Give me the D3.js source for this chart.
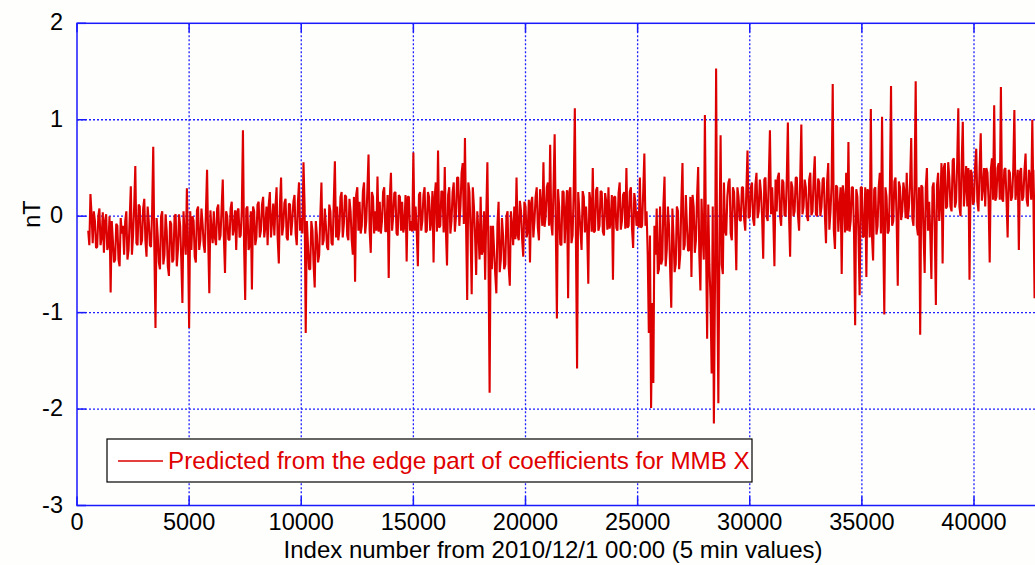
<!DOCTYPE html>
<html lang="en">
<head>
    <meta charset="UTF-8">
    <title>Predicted MMB X</title>
    <script src="https://d3js.org/d3.v7.min.js"></script>
    <style>
        body { margin: 0; background: #fefefc; overflow: hidden; }
        text { font-family: "Liberation Sans", Arial, sans-serif; }
        .grid line { stroke: #1f1fff; stroke-width: 1.3; stroke-dasharray: 2, 2; }
        .frame { stroke: #1a1aff; stroke-width: 1.5; fill: none; }
        .tick-label { font-size: 23.5px; fill: #000; }
    </style>
</head>
<body>
    <svg width="1035" height="565"></svg>

    <script>
        // series: 5 min index, first sample at 500, one value every 100
        const xStart = 500;
        const xStep = 100;
        const values = [
            -0.15, 0.23, -0.28, -0.05, -0.32, 0.08, -0.22, -0.38, 0.02, -0.30,
            -0.79, -0.25, -0.45, -0.10, -0.52, -0.18, -0.40, 0.05, -0.35, 0.31,
            -0.20, 0.52, -0.30, 0.10, -0.25, 0.18, -0.42, -0.05, -0.32, 0.72,
            -1.16, -0.20, -0.55, 0.05, -0.40, -0.15, -0.62, -0.08, -0.45, 0.02,
            -0.35, -0.10, -0.90, -0.20, 0.29, -1.16, -0.35, -0.05, -0.48, 0.10,
            -0.25, -0.08, -0.38, 0.48, -0.80, -0.15, 0.05, -0.30, 0.12, -0.20,
            0.38, -0.59, 0.00, -0.25, 0.15, -0.12, -0.35, 0.08, -0.20, 0.89,
            -0.87, 0.10, -0.30, -0.76, 0.05, -0.22, 0.15, -0.15, 0.20, -0.10,
            -0.30, 0.25, -0.05, -0.20, 0.30, -0.49, 0.40, -0.10, 0.18, -0.25,
            0.12, -0.05, 0.22, -0.30, 0.35, -0.02, 0.56, -1.21, -0.30, -0.55,
            -0.15, -0.74, -0.20, -0.40, 0.35, -0.25, -0.10, -0.35, 0.05, -0.30,
            0.57, 0.10, -0.15, 0.25, -0.08, 0.20, -0.25, 0.05, -0.40, -0.68,
            0.30, 0.15, -0.10, 0.35, -0.05, 0.64, -0.38, 0.20, 0.05, 0.41,
            0.15, -0.05, 0.30, -0.15, -0.64, 0.45, 0.00, 0.25, -0.20, 0.20,
            0.15, -0.10, -0.47, 0.20, -0.05, 0.66, 0.10, -0.52, 0.25, -0.05,
            0.30, -0.15, 0.20, -0.05, -0.48, 0.35, 0.68, -0.10, 0.25, 0.51,
            -0.51, 0.30, -0.05, 0.35, 0.00, 0.40, 0.10, 0.55, 0.81, -0.87,
            0.25, -0.81, 0.10, -0.61, -0.15, 0.20, -0.35, -0.66, 0.56, -1.83,
            -0.55, -0.35, -0.80, 0.15, -0.45, -0.20, -0.50, 0.05, -0.72, -0.10,
            0.10, 0.40, -0.25, 0.05, -0.42, 0.10, -0.15, -0.48, 0.20, -0.05,
            0.30, -0.25, 0.10, 0.56, 0.00, 0.35, 0.74, -0.20, 0.85, -1.06,
            0.10, -0.30, 0.25, 0.05, -0.85, 0.30, -0.20, 1.12, -1.58, 0.05,
            -0.35, 0.20, 0.10, -0.70, 0.15, 0.50, -0.15, 0.30, -0.10, 0.25,
            -0.20, 0.15, 0.30, -0.05, -0.66, 0.20, -0.15, 0.35, -0.05, 0.25,
            0.50, -0.10, 0.30, -0.33, 0.15, 0.05, 0.40, -0.10, 0.65, 0.05,
            -1.21, -1.99, -1.73, -0.40, -0.60, 0.10, -0.45, 0.41, -0.35, -0.10,
            -0.95, -0.20, -0.50, 0.05, -0.40, 0.55, -0.30, -0.10, -0.35, -0.63,
            0.10, -0.25, 0.51, -0.77, -0.20, 1.05, -1.27, -0.50, -1.63, -2.15,
            1.53, -1.94, 0.84, -0.60, -0.15, 0.20, 0.39, -0.25, 0.25, -0.56,
            0.20, -0.05, 0.30, -0.15, 0.68, 0.00, 0.35, -0.10, 0.45, 0.05,
            0.25, -0.44, 0.40, -0.05, 0.89, 0.30, -0.52, 0.05, 0.45, -0.10,
            0.35, 0.00, 0.97, -0.42, 0.30, 0.05, 0.40, -0.15, 0.95, 0.10,
            0.30, -0.05, 0.45, 0.05, 0.62, 0.00, 0.35, 0.10, 0.40, -0.28,
            0.55, 0.05, 1.37, -0.34, 0.30, 0.10, -0.60, 0.20, 0.45, 0.77,
            -0.05, 0.30, -1.13, 0.20, -0.82, 0.30, -0.20, -0.63, 0.25, 1.11,
            -0.46, 0.30, -0.10, 0.45, 1.03, -1.02, 0.20, -0.15, 1.35, -0.05,
            0.40, -0.72, 0.30, 0.05, 0.25, 0.45, 0.10, 0.81, -0.10, 1.40,
            -0.20, -1.23, 0.30, -0.59, 0.50, 0.15, -0.65, 0.35, -0.92, 0.45,
            0.15, -0.49, 0.55, 0.10, 0.40, 0.05, 0.60, 0.15, 1.12, 0.00,
            0.98, 0.30, 0.10, -0.66, 0.45, 0.15, 0.70, 0.05, 0.86, 0.30,
            0.10, 0.45, -0.48, 0.60, 1.15, 0.20, 0.55, 1.34, 0.15, 0.50,
            -0.22, 0.45, 0.20, 1.10, 0.30, -0.35, 0.50, 0.20, 0.65, 0.10,
            0.40, 1.00, -0.85, 0.45, 0.30, 0.55, 0.20
        ];

        // in-between samples (index + 50), mostly inside the dense core
        const midOffset = 50;
        const midValues = [
            -0.30, 0.02, 0.05, -0.33, 0.00, -0.30, 0.04, -0.05, -0.35, 0.00,
            -0.05, -0.48, -0.08, -0.45, -0.02, -0.10, -0.05, -0.45, -0.02, -0.40,
            0.10, -0.28, 0.12, -0.30, 0.08, -0.25, 0.10, -0.30, 0.05, -0.35,
            -0.02, -0.48, 0.00, -0.50, 0.02, -0.52, -0.05, -0.48, 0.00, -0.52,
            0.02, -0.45, 0.05, -0.40, -0.30, 0.05, 0.00, -0.42, 0.06, -0.35,
            0.08, -0.30, 0.05, -0.25, 0.06, -0.28, -0.22, 0.08, -0.25, 0.09,
            -0.22, 0.05, -0.24, 0.08, -0.20, 0.06, 0.05, -0.22, 0.07, -0.30,
            0.08, -0.35, 0.05, 0.10, -0.30, 0.12, -0.22, 0.12, -0.22, 0.10,
            0.12, -0.22, 0.13, 0.10, -0.24, 0.12, -0.20, 0.14, -0.22, 0.13,
            -0.20, 0.15, -0.18, 0.14, -0.15, -0.18, 0.10, -0.05, -0.55, -0.05,
            -0.50, -0.05, -0.48, 0.00, -0.30, 0.08, -0.32, 0.12, -0.28, 0.15,
            -0.22, -0.25, 0.20, -0.22, 0.22, -0.20, 0.18, -0.25, 0.20, 0.22,
            -0.15, -0.18, 0.26, -0.18, 0.28, -0.15, 0.25, -0.18, -0.15, -0.16,
            -0.18, 0.25, -0.16, 0.22, 0.20, -0.15, 0.24, -0.18, 0.22, -0.15,
            -0.17, 0.22, 0.20, -0.15, -0.16, -0.15, -0.16, 0.22, -0.15, 0.22,
            -0.17, 0.25, -0.15, 0.26, 0.20, -0.16, -0.12, 0.26, -0.17, -0.15,
            0.22, -0.18, 0.25, -0.16, 0.40, -0.10, 0.45, -0.08, -0.10, 0.35,
            -0.15, 0.30, -0.20, 0.05, -0.45, -0.40, 0.05, 0.00, -0.45, -0.10,
            -0.10, -0.60, -0.08, -0.58, -0.02, -0.55, 0.00, -0.52, 0.05, -0.30,
            -0.24, -0.20, 0.16, -0.24, 0.15, -0.22, 0.17, 0.14, -0.22, 0.20,
            -0.12, 0.28, -0.10, -0.11, 0.30, -0.10, -0.08, 0.30, -0.10, 0.28,
            -0.29, 0.26, -0.28, 0.27, 0.25, -0.28, 0.26, -0.28, 0.25, -0.15,
            0.26, -0.17, -0.15, 0.25, -0.16, -0.17, 0.27, -0.15, 0.26, -0.16,
            0.24, -0.14, -0.13, 0.22, 0.20, -0.12, 0.24, -0.14, 0.22, -0.13,
            -0.12, 0.25, -0.13, 0.24, -0.10, -0.12, -0.12, 0.26, -0.10, -0.40,
            -0.20, -0.90, -0.10, 0.08, -0.55, -0.50, 0.12, -0.52, 0.10, -0.55,
            0.08, -0.58, 0.10, -0.55, 0.15, -0.35, 0.22, -0.36, 0.20, 0.22,
            -0.38, 0.20, -0.40, 0.18, -0.45, -0.30, 0.12, -0.85, 0.10, -0.70,
            -0.60, -0.20, -0.50, 0.35, -0.20, 0.35, -0.18, 0.30, -0.05, 0.30,
            -0.04, 0.30, -0.03, 0.28, -0.02, 0.30, -0.03, 0.32, -0.02, 0.38,
            0.00, 0.38, 0.00, 0.40, 0.02, -0.01, 0.38, 0.40, 0.00, 0.38,
            0.01, 0.38, 0.02, 0.36, 0.00, 0.40, 0.01, 0.39, 0.02, 0.38,
            0.00, 0.38, 0.01, 0.40, 0.02, 0.39, 0.00, 0.38, 0.01, 0.36,
            -0.14, 0.33, -0.15, 0.32, -0.16, 0.30, 0.32, -0.17, -0.15, -0.16,
            0.30, -0.18, 0.28, -0.20, 0.30, -0.22, 0.30, 0.28, -0.22, -0.20,
            0.28, -0.19, 0.30, -0.18, -0.15, 0.30, -0.18, 0.30, -0.10, 0.36,
            -0.03, 0.36, -0.04, 0.35, -0.02, -0.03, 0.36, -0.02, 0.34, -0.10,
            0.30, 0.32, -0.18, 0.30, -0.15, -0.18, 0.30, -0.16, 0.32, -0.05,
            0.55, 0.50, 0.08, 0.56, 0.10, 0.58, 0.09, 0.55, 0.10, 0.55,
            0.10, 0.52, 0.50, 0.48, 0.12, 0.52, 0.15, 0.50, 0.16, 0.50,
            0.50, 0.16, 0.48, 0.17, 0.16, 0.50, 0.17, 0.18, 0.48, 0.17,
            0.48, 0.16, 0.48, 0.17, 0.48, 0.46, 0.16, 0.47, 0.17, 0.48,
            0.17, 0.15, 0.48, 0.16, 0.50, 0.18, 0.45
        ];

        const xTicks = [0, 5000, 10000, 15000, 20000, 25000, 30000, 35000, 40000];
        const yTicks = [-3, -2, -1, 0, 1, 2];
        const legendLabel = "Predicted from the edge part of coefficients for MMB X";
        const xLabel = "Index number from 2010/12/1 00:00 (5 min values)";
        const yLabel = "nT";

        // one trace: main samples interleaved with the in-between ones
        const trace = values.flatMap((v, i) => [
            { idx: xStart + i * xStep, v: v },
            { idx: xStart + i * xStep + midOffset, v: midValues[i] }
        ]);

        const svg = d3.select("svg");

        // plot box runs past the right edge of the picture
        const plotLeft = 77, plotTop = 23.3, plotBottom = 505.5;
        const x = d3.scaleLinear().domain([0, 45000]).range([plotLeft, plotLeft + 45000 * 0.022425]);
        const y = d3.scaleLinear().domain([-3, 2]).range([plotBottom, plotTop]);
        const plotRight = x(45000);

        // grid
        const grid = svg.append("g").attr("class", "grid");
        grid.selectAll(".gx")
            .data(xTicks.filter(d => d > 0))
            .enter().append("line")
            .attr("x1", d => x(d)).attr("x2", d => x(d))
            .attr("y1", plotTop).attr("y2", plotBottom);
        grid.selectAll(".gy")
            .data(yTicks.filter(d => d > -3 && d < 2))
            .enter().append("line")
            .attr("x1", plotLeft).attr("x2", plotRight)
            .attr("y1", d => y(d)).attr("y2", d => y(d));

        // data line
        const line = d3.line()
            .x(d => x(d.idx))
            .y(d => y(d.v));
        svg.append("path")
            .datum(trace)
            .attr("d", line)
            .attr("fill", "none")
            .attr("stroke", "#dc0000")
            .attr("stroke-width", 2.1)
            .attr("stroke-linejoin", "bevel");

        // frame
        svg.append("rect")
            .attr("class", "frame")
            .attr("x", plotLeft).attr("y", plotTop)
            .attr("width", plotRight - plotLeft).attr("height", plotBottom - plotTop);

        // inward ticks
        const ticks = svg.append("g").attr("stroke", "#1a1aff").attr("stroke-width", 1.5);
        xTicks.forEach(d => {
            ticks.append("line").attr("x1", x(d)).attr("x2", x(d)).attr("y1", plotBottom).attr("y2", plotBottom - 9);
            ticks.append("line").attr("x1", x(d)).attr("x2", x(d)).attr("y1", plotTop).attr("y2", plotTop + 9);
        });
        yTicks.forEach(d => {
            ticks.append("line").attr("x1", plotLeft).attr("x2", plotLeft + 9).attr("y1", y(d)).attr("y2", y(d));
        });

        // tick labels
        svg.selectAll(".xl")
            .data(xTicks)
            .enter().append("text")
            .attr("class", "tick-label")
            .attr("x", d => x(d))
            .attr("y", 530)
            .attr("text-anchor", "middle")
            .text(d => d);
        svg.selectAll(".yl")
            .data(yTicks)
            .enter().append("text")
            .attr("class", "tick-label")
            .attr("x", 63)
            .attr("y", d => y(d))
            .attr("dy", "0.3em")
            .attr("text-anchor", "end")
            .text(d => d);

        // axis titles
        svg.append("text")
            .attr("x", 553).attr("y", 558)
            .attr("text-anchor", "middle")
            .style("font-size", "24px")
            .text(xLabel);
        svg.append("text")
            .attr("transform", "translate(40,214) rotate(-90)")
            .attr("text-anchor", "middle")
            .style("font-size", "23.5px")
            .text(yLabel);

        // legend
        const lg = svg.append("g");
        lg.append("rect")
            .attr("x", 107).attr("y", 439)
            .attr("width", 645).attr("height", 43)
            .attr("fill", "#ffffff").attr("stroke", "#000").attr("stroke-width", 1.2);
        lg.append("line")
            .attr("x1", 118).attr("x2", 163)
            .attr("y1", 461).attr("y2", 461)
            .attr("stroke", "#dc0000").attr("stroke-width", 1.3);
        lg.append("text")
            .attr("x", 168).attr("y", 469)
            .style("font-size", "24.2px")
            .attr("fill", "#e00000")
            .text(legendLabel);
    </script>
</body>
</html>
